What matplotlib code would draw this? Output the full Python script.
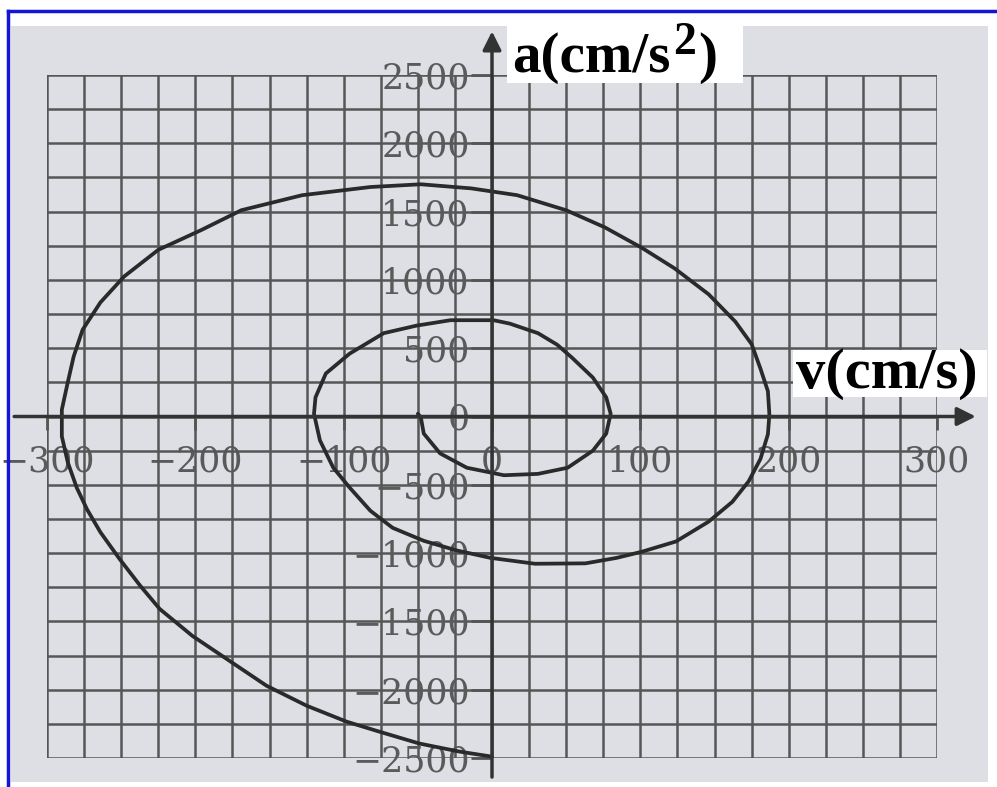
import numpy as np
import matplotlib.pyplot as plt
from matplotlib.patches import Rectangle
from matplotlib.lines import Line2D

# 螺旋曲线上读出的点 (v, a)
v_data = [0, -22, -49, -76, -98, -125, -152, -179, -202, -224, -237, -251, -264, -273,
          -280, -286, -290, -290, -286, -282, -276, -264, -248, -225, -196, -169, -128,
          -82, -48, -14, 17, 50, 76, 101, 123, 146, 164, 175, 181, 186, 187, 186, 181,
          173, 162, 146, 124, 101, 84, 63, 29, -1, -24, -46, -67, -82, -96, -107, -116,
          -120, -119, -112, -96, -73, -51, -28, 1, 12, 31, 44, 54, 68, 77, 80, 77, 68, 51,
          31, 8, -17, -35, -46, -48, -50]
a_data = [-2490, -2453, -2394, -2307, -2234, -2117, -1971, -1774, -1606, -1409, -1241, -1044, -847, -680,
          -520, -335, -145, 50, 250, 440, 635, 835, 1025, 1220, 1365, 1510, 1620,
          1680, 1700, 1670, 1620, 1510, 1385, 1235, 1085, 895, 695, 530, 350, 185, 15, -130, -310,
          -475, -625, -770, -915, -990, -1035, -1075, -1078, -1035, -980, -910, -815, -690, -520, -375, -175,
          20, 140, 315, 460, 610, 665, 705, 705, 680, 610, 525, 430, 285, 140, 20, -125, -250, -375,
          -420, -430, -375, -270, -125, -5, 20]

v_ticks = [-300, -200, -100, 0, 100, 200, 300]
a_ticks = [-2500, -2000, -1500, -1000, -500, 0, 500, 1000, 1500, 2000, 2500]

plt.rcParams['font.family'] = ['DejaVu Serif']

W, H = 997, 787
fig = plt.figure(figsize=(W / 100, H / 100), dpi=100, facecolor='white')


# 像素坐标 -> figure 坐标
def fx(px):
    return px / W


def fy(py):
    return 1 - py / H


# 纸张背景
fig.add_artist(Rectangle((fx(11), fy(782)), fx(988) - fx(11), fy(26) - fy(782),
                         transform=fig.transFigure, facecolor='#dddfe4', edgecolor='none', zorder=-2))
# 蓝色边框
fig.add_artist(Line2D([fx(8), fx(8)], [fy(11), 0], transform=fig.transFigure, color='#1515d5', lw=2.5))
fig.add_artist(Line2D([fx(8), 1], [fy(11), fy(11)], transform=fig.transFigure, color='#1515d5', lw=2.5))

ax = fig.add_axes([fx(47), fy(758), fx(937) - fx(47), fy(75) - fy(758)])
ax.patch.set_alpha(0)
ax.set_xlim(-300, 300)
ax.set_ylim(-2500, 2500)

# 网格
ax.set_xticks(v_ticks)
ax.set_yticks(a_ticks)
ax.set_xticks(np.arange(-300, 301, 25), minor=True)
ax.set_yticks(np.arange(-2500, 2501, 250), minor=True)
ax.grid(which='both', color='#565656', lw=1.8)
ax.set_axisbelow(True)

for s in ['top', 'right']:
    ax.spines[s].set_visible(False)
ax.spines['left'].set_position('zero')
ax.spines['bottom'].set_position('zero')
ax.spines['left'].set_color('none')
ax.spines['bottom'].set_color('none')

ax.tick_params(which='minor', length=0)
ax.tick_params(axis='x', which='major', direction='out', length=9, width=2, color='#555',
               pad=11, labelsize=25, labelcolor='#5a5a5a')
ax.tick_params(axis='y', which='major', direction='out', length=15, width=2, color='#555',
               pad=1, labelsize=25, labelcolor='#5a5a5a')

# 坐标轴箭头
ax.annotate('', xy=(0, 2840), xytext=(0, -2660), annotation_clip=False,
            arrowprops=dict(arrowstyle='-|>', lw=2.5, color='#333333', mutation_scale=28))
ax.annotate('', xy=(328, 0), xytext=(-324, 0), annotation_clip=False,
            arrowprops=dict(arrowstyle='-|>', lw=2.5, color='#333333', mutation_scale=28))

# 螺旋曲线
ax.plot(v_data, a_data, color='#2a2a2a', lw=2.7, solid_capstyle='round',
        solid_joinstyle='round', clip_on=False)

# 轴标题（白底）
fig.add_artist(Rectangle((fx(507), fy(83)), fx(743) - fx(507), fy(20) - fy(83),
                         transform=fig.transFigure, facecolor='white', edgecolor='none', zorder=2))
fig.add_artist(Rectangle((fx(793), fy(397)), fx(987) - fx(793), fy(350) - fy(397),
                         transform=fig.transFigure, facecolor='white', edgecolor='none', zorder=2))
lab = dict(family='Liberation Serif', fontweight='bold', ha='left', va='baseline', zorder=3)
t1 = fig.text(fx(512), fy(72), 'a(cm/s', fontsize=41, **lab)
fig.text(fx(796), fy(388), 'v(cm/s)', fontsize=42, **lab)

# 上标 2 和右括号接在后面
fig.canvas.draw()
r = fig.canvas.get_renderer()
x1 = t1.get_window_extent(renderer=r).x1
t2 = fig.text(x1 / W + fx(3), fy(54), '2', fontsize=33, **lab)
fig.canvas.draw()
x2 = t2.get_window_extent(renderer=r).x1
fig.text(x2 / W + fx(2), fy(72), ')', fontsize=41, **lab)

plt.savefig('out.png', dpi=100, facecolor='white')
